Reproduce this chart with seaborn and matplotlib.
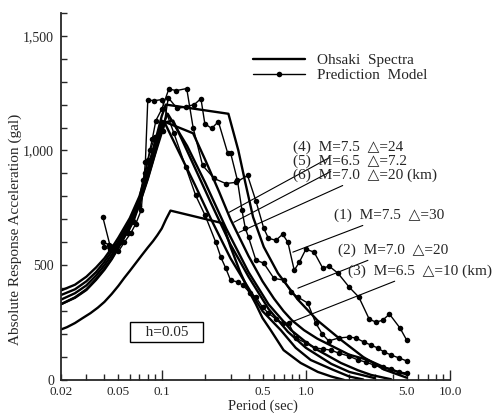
import numpy as np
import pandas as pd
import matplotlib
matplotlib.use("Agg")
import matplotlib.pyplot as plt
import matplotlib.ticker as mticker
import seaborn as sns

# Ohsaki spectra (period in sec, absolute response acceleration in gal)
ohsaki_4_T = [0.02, 0.025, 0.03, 0.035, 0.04, 0.045, 0.05, 0.06, 0.07, 0.08, 0.09, 0.1, 0.107, 0.29,
              0.34, 0.38, 0.43, 0.51, 0.64, 0.88, 1.2, 1.75, 2.5, 3.5, 5.0]
ohsaki_4_A = [390, 415, 450, 490, 530, 575, 620, 705, 800, 920, 1040, 1150, 1200, 1160,
              1000, 860, 710, 580, 465, 350, 260, 175, 100, 45, 10]

ohsaki_5_T = [0.02, 0.025, 0.03, 0.035, 0.04, 0.045, 0.05, 0.06, 0.07, 0.08, 0.09, 0.1, 0.165, 0.2,
              0.25, 0.3, 0.4, 0.5, 0.6, 0.7, 0.8, 0.97, 1.2, 1.57, 2.0, 2.7, 3.5, 4.6, 5.0]
ohsaki_5_A = [370, 395, 430, 470, 515, 560, 605, 690, 785, 900, 1010, 1130, 1075, 960,
              820, 700, 540, 430, 355, 300, 260, 217, 180, 143, 110, 87, 55, 30, 25]

ohsaki_6_T = [0.02, 0.025, 0.03, 0.035, 0.04, 0.045, 0.05, 0.06, 0.07, 0.08, 0.09, 0.1, 0.11, 0.15,
              0.2, 0.28, 0.4, 0.55, 0.79, 1.0, 1.21, 1.75, 2.3, 2.83, 3.9]
ohsaki_6_A = [330, 360, 395, 440, 485, 530, 580, 670, 770, 880, 990, 1100, 1160, 1020,
              860, 660, 470, 330, 217, 165, 130, 74, 42, 22, 3]

ohsaki_1_T = [0.02, 0.025, 0.03, 0.035, 0.04, 0.045, 0.05, 0.06, 0.07, 0.08, 0.09, 0.1, 0.12, 0.16,
              0.22, 0.3, 0.4, 0.55, 0.75, 1.0, 1.5, 2.0, 3.0]
ohsaki_1_A = [350, 378, 412, 455, 500, 545, 592, 680, 778, 890, 1000, 1120, 1130, 960,
              770, 590, 450, 310, 210, 140, 70, 35, 8]

ohsaki_2_T = [0.02, 0.025, 0.03, 0.035, 0.04, 0.045, 0.05, 0.06, 0.07, 0.08, 0.09, 0.105, 0.13, 0.17,
              0.22, 0.3, 0.4, 0.5, 0.67, 0.85, 1.08, 1.56, 2.0, 2.5]
ohsaki_2_A = [330, 358, 392, 436, 480, 526, 575, 665, 765, 875, 985, 1120, 1000, 850,
              700, 530, 400, 300, 217, 140, 87, 43, 15, 2]

ohsaki_3_T = [0.02, 0.022, 0.025, 0.028, 0.032, 0.036, 0.04, 0.045, 0.05, 0.055, 0.06, 0.066, 0.073,
              0.08, 0.087, 0.093, 0.1, 0.107, 0.115, 0.265, 0.3, 0.35, 0.4, 0.45, 0.5, 0.57, 0.7,
              0.92, 1.21, 1.5, 1.84]
ohsaki_3_A = [220, 230, 248, 268, 291, 315, 340, 375, 410, 445, 475, 509, 545,
              577, 605, 630, 660, 700, 738, 683, 580, 470, 390, 330, 270, 217, 130,
              74, 35, 15, 0]

# Prediction model
pred_1_T = [0.039, 0.044, 0.048, 0.052, 0.057, 0.062, 0.068, 0.074, 0.08, 0.086, 0.091, 0.1, 0.112,
            0.126, 0.149, 0.165, 0.192, 0.231, 0.278, 0.327, 0.394, 0.45, 0.51, 0.55, 0.62, 0.69,
            0.75, 0.83, 0.9, 1.0, 1.14, 1.31, 1.45, 1.67, 2.0, 2.33, 2.75, 3.06, 3.4, 3.8, 4.5, 5.0]
pred_1_A = [710, 580, 575, 620, 660, 700, 760, 870, 960, 1050, 1130, 1180, 1268,
            1261, 1270, 1100, 935, 878, 856, 861, 891, 780, 661, 617, 609, 635,
            600, 478, 513, 570, 557, 487, 496, 465, 404, 361, 265, 252, 260, 287, 226, 174]

pred_2_T = [0.039, 0.043, 0.047, 0.052, 0.058, 0.064, 0.07, 0.077, 0.083, 0.09, 0.102, 0.111, 0.128,
            0.147, 0.168, 0.187, 0.199, 0.222, 0.247, 0.286, 0.301, 0.335, 0.36, 0.38, 0.4, 0.45,
            0.51, 0.6, 0.7, 0.79, 0.88, 1.03, 1.17, 1.3, 1.44, 1.69, 1.99, 2.22, 2.53, 2.83, 3.16,
            3.48, 3.89, 4.42, 5.0]
pred_2_A = [600, 590, 585, 600, 640, 690, 760, 900, 1000, 1060, 1083, 1230, 1183,
            1191, 1200, 1226, 1117, 1096, 1126, 991, 987, 870, 740, 661, 622, 522,
            509, 443, 435, 383, 361, 335, 248, 200, 170, 183, 187, 183, 165, 152, 139,
            122, 109, 96, 83]

pred_3_T = [0.04, 0.044, 0.05, 0.055, 0.061, 0.066, 0.072, 0.077, 0.08, 0.089, 0.1, 0.121, 0.147,
            0.172, 0.2, 0.237, 0.257, 0.278, 0.3, 0.34, 0.365, 0.41, 0.45, 0.5, 0.55, 0.62, 0.69,
            0.76, 0.85, 1.0, 1.15, 1.31, 1.49, 1.69, 1.99, 2.3, 2.61, 2.96, 3.4, 3.9, 4.4, 5.0]
pred_3_A = [580, 570, 560, 600, 640, 680, 740, 950, 1220, 1217, 1222, 1078, 926,
            804, 717, 600, 535, 487, 435, 426, 413, 380, 361, 317, 291, 265, 248,
            248, 183, 161, 140, 135, 130, 117, 104, 87, 78, 65, 57, 48, 35, 30]

ohsaki = [(ohsaki_1_T, ohsaki_1_A), (ohsaki_2_T, ohsaki_2_A), (ohsaki_3_T, ohsaki_3_A),
          (ohsaki_4_T, ohsaki_4_A), (ohsaki_5_T, ohsaki_5_A), (ohsaki_6_T, ohsaki_6_A)]
preds = [(pred_1_T, pred_1_A), (pred_2_T, pred_2_A), (pred_3_T, pred_3_A)]

case_labels = ["(1)  M=7.5  \u25b3=30", "(2)  M=7.0  \u25b3=20", "(3)  M=6.5  \u25b3=10 (km)",
               "(4)  M=7.5  \u25b3=24", "(5)  M=6.5  \u25b3=7.2", "(6)  M=7.0  \u25b3=20 (km)"]

sns.set_style("ticks")
plt.rcParams["font.family"] = ["Liberation Serif", "DejaVu Serif"]
plt.rcParams["font.size"] = 10

fig = plt.figure(figsize=(5.02, 4.13), dpi=100)
ax = fig.add_axes([0.1215, 0.080, 0.775, 0.889])

for i, (t, a) in enumerate(ohsaki):
    sns.lineplot(x=t, y=a, ax=ax, color="black", linewidth=1.7, sort=False,
                 label="Ohsaki  Spectra" if i == 0 else None)
for i, (t, a) in enumerate(preds):
    sns.lineplot(x=t, y=a, ax=ax, color="black", linewidth=1.0, marker="o", markersize=4,
                 markeredgewidth=0, sort=False, label="Prediction  Model" if i == 0 else None)

ax.set_xscale("log")
ax.set_xlim(0.02, 10)
ax.set_ylim(0, 1600)

ax.xaxis.set_major_locator(mticker.FixedLocator([0.1, 1, 10]))
ax.xaxis.set_major_formatter(mticker.FixedFormatter(["0.1", "1.0", "10.0"]))
minor = [0.02, 0.03, 0.04, 0.05, 0.06, 0.07, 0.08, 0.09, 0.2, 0.3, 0.4, 0.5, 0.6, 0.7, 0.8, 0.9,
         2, 3, 4, 5, 6, 7, 8, 9]
minor_lab = {0.02: "0.02", 0.05: "0.05", 0.5: "0.5", 5: "5.0"}
ax.xaxis.set_minor_locator(mticker.FixedLocator(minor))
ax.xaxis.set_minor_formatter(mticker.FixedFormatter([minor_lab.get(m, "") for m in minor]))

ax.yaxis.set_major_locator(mticker.MultipleLocator(500))
ax.yaxis.set_minor_locator(mticker.MultipleLocator(100))
ax.yaxis.set_major_formatter(mticker.FuncFormatter(lambda v, p: f"{int(v):,}"))

ax.tick_params(axis="x", which="major", direction="in", length=7, width=1, labelsize=9.5, pad=4.5)
ax.tick_params(axis="x", which="minor", direction="in", length=4, width=1, labelsize=9.5, pad=4.5)
ax.tick_params(axis="y", which="both", direction="in", length=4, width=1, labelsize=10, pad=5)

sns.despine(ax=ax)
for s in ["left", "bottom"]:
    ax.spines[s].set_linewidth(1.3)

ax.set_xlabel("Period (sec)", fontsize=10.5)
ax.set_ylabel("Absolute Response Acceleration (gal)", fontsize=11)
ax.xaxis.set_label_coords(0.52, -0.052)
ax.yaxis.set_label_coords(-0.1, 0.41)

ax.legend(loc="upper left", bbox_to_anchor=(0.478, 0.905), frameon=False, fontsize=11,
          handlelength=3.4, labelspacing=0.05, borderaxespad=0, handletextpad=0.8)

# case annotations: (text position, leader end)
ann = [((1.565, 717), (0.812, 557)), ((1.67, 565), (0.88, 400)), ((1.96, 474), (0.762, 248)),
       ((0.812, 1013), (0.292, 730)), ((0.812, 952), (0.316, 687)), ((0.812, 891), (0.343, 643))]
for lab, (txy, end) in zip(case_labels, ann):
    ax.annotate(lab, xy=end, xytext=txy, fontsize=11, va="center", ha="left",
                arrowprops=dict(arrowstyle="-", color="black", lw=0.8, shrinkA=0, shrinkB=0))

ax.text(0.108, 209, "   h=0.05   ", fontsize=11, ha="center", va="center",
        bbox=dict(boxstyle="square,pad=0.2", fc="white", ec="black", lw=1.0))

fig.savefig("out.png", dpi=100)
